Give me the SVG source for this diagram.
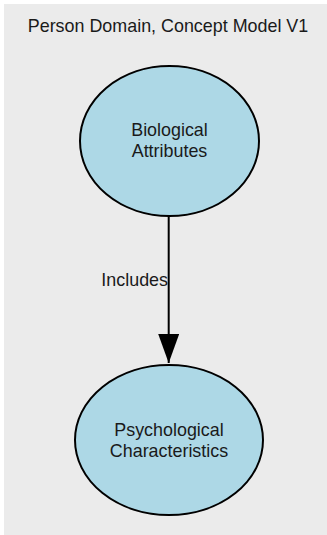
<svg xmlns="http://www.w3.org/2000/svg" width="327" height="535" viewBox="0 0 327 535">
<style>
text{font-family:"Liberation Sans",Arial,sans-serif;font-size:17.9px;fill:#1a1a1a}
.node ellipse{fill:#add8e6;stroke:#000;stroke-width:2}
.edge line{stroke:#000;stroke-width:2}
</style>
<defs>
<marker id="arrow" markerUnits="userSpaceOnUse" markerWidth="30" markerHeight="22" refX="29" refY="10.5" orient="auto">
<polygon points="0,0 29,10.5 0,21" fill="#000"/>
</marker>
</defs>
<rect x="4" y="4" width="323" height="531" fill="#ebebeb"/>
<text x="168" y="31.5" text-anchor="middle">Person Domain, Concept Model V1</text>
<g id="connectors" class="edge">
<line x1="168.7" y1="216" x2="168.7" y2="363" marker-end="url(#arrow)"/>
<text x="168" y="286" text-anchor="end">Includes</text>
</g>
<g id="node-biological" class="node">
<ellipse cx="169.5" cy="141" rx="89.5" ry="75"/>
<text x="169.5" y="136" text-anchor="middle">Biological</text>
<text x="169.5" y="157" text-anchor="middle">Attributes</text>
</g>
<g id="node-psychological" class="node">
<ellipse cx="169" cy="440" rx="94" ry="75"/>
<text x="169" y="436" text-anchor="middle">Psychological</text>
<text x="169" y="457" text-anchor="middle">Characteristics</text>
</g>
</svg>
